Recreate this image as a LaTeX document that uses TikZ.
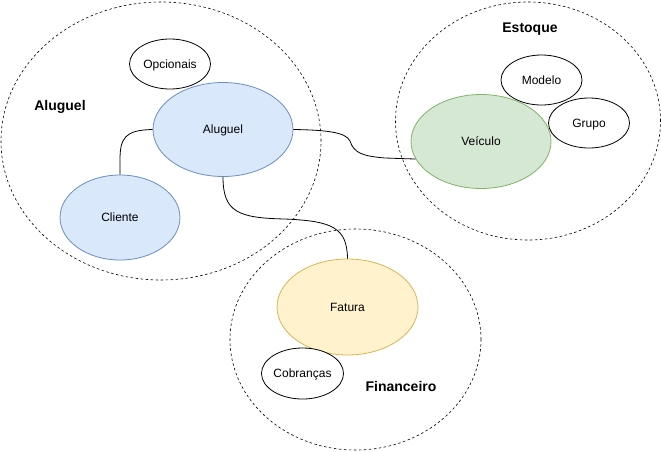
\documentclass[tikz,border=0pt]{standalone}
\usepackage{fontspec}
\setmainfont{Liberation Sans}
\usetikzlibrary{shapes.geometric}
\definecolor{bluefill}{HTML}{DAE8FC}
\definecolor{bluedraw}{HTML}{6C8EBF}
\definecolor{greenfill}{HTML}{D5E8D4}
\definecolor{greendraw}{HTML}{82B366}
\definecolor{yellowfill}{HTML}{FFF2CC}
\definecolor{yellowdraw}{HTML}{D6B656}
\tikzset{
  region/.style={draw=black, line width=0.6pt, dash pattern=on 2.5pt off 2.5pt},
  ent/.style={ellipse, draw, line width=0.8pt, inner sep=0pt, text height=9pt, text depth=0.5pt, font=\fontsize{12}{14}\selectfont},
  small/.style={ent, draw=black, fill=white, minimum width=81, minimum height=50},
  big/.style={ent, minimum width=140, minimum height=94},
  bluebox/.style={big, fill=bluefill, draw=bluedraw},
  greenbox/.style={big, fill=greenfill, draw=greendraw},
  yellowbox/.style={big, fill=yellowfill, draw=yellowdraw},
  title/.style={font=\fontsize{14}{16}\selectfont\bfseries},
  link/.style={draw=black, line width=0.8pt}
}
\begin{document}
\begin{tikzpicture}[x=1pt,y=-1pt]
\useasboundingbox (0,0) rectangle (661,451);
% regions
\node[region, ellipse, minimum width=320, minimum height=278, inner sep=0pt] (regAluguel) at (161,141) {};
\node[region, ellipse, minimum width=265, minimum height=238, inner sep=0pt] (regEstoque) at (528,121) {};
\node[region, ellipse, minimum width=251, minimum height=221, inner sep=0pt] (regFin) at (355.5,339.5) {};
% titles
\node[title] (tAluguel) at (60,107) {Aluguel};
\node[title] (tEstoque) at (530,29) {Estoque};
\node[title] (tFin) at (401,386) {Financeiro};
% entities
\node[small] (opc) at (170,64) {Opcionais};
\node[bluebox] (alu) at (223,129.5) {Aluguel};
\node[bluebox, minimum width=120, minimum height=85] (cli) at (120,217.5) {Cliente};
\node[small] (mod) at (541.5,80) {Modelo};
\node[small] (gru) at (589,123) {Grupo};
\node[greenbox] (vei) at (481,141.5) {Veículo};
\node[yellowbox, minimum width=141, minimum height=96] (fat) at (347.5,307) {Fatura};
\node[small, minimum height=51] (cob) at (302.5,373.5) {Cobranças};
% connectors
\draw[link] (alu.west) .. controls (125,130) and (120,138) .. (120,160) -- (cli.north);
\draw[link] (alu.east) .. controls (325,130) and (346,132) .. (350,141)
  .. controls (354,153) and (362,156) .. (385,158) -- (vei.195);
\draw[link] (alu.south) .. controls (223,212) and (238,218) .. (285,219)
  .. controls (333,221) and (347,228) .. (fat.north);
\end{tikzpicture}
\end{document}
